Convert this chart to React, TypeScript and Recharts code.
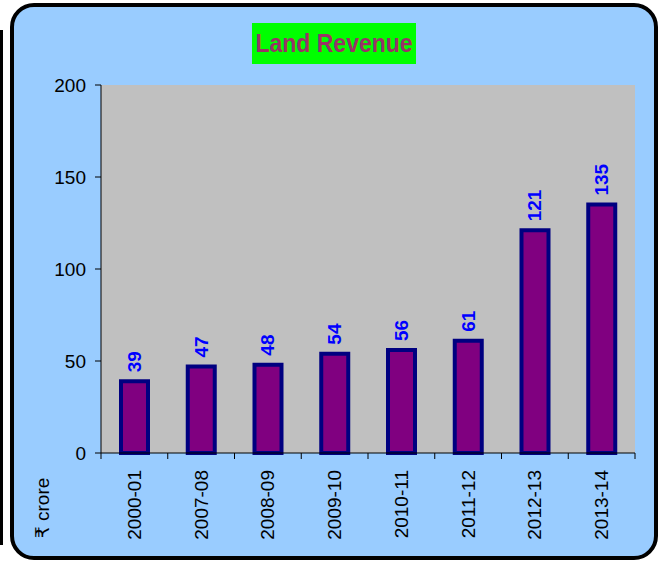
import { BarChart, Bar, XAxis, YAxis, CartesianGrid, LabelList } from "recharts";

const years = ["2000-01", "2007-08", "2008-09", "2009-10", "2010-11", "2011-12", "2012-13", "2013-14"];
const revenue = [39, 47, 48, 54, 56, 61, 121, 135];
const yTicks = [0, 50, 100, 150, 200];

const data = years.map((year, i) => ({ year, revenue: revenue[i] }));

const FONT = '"Liberation Sans", Arial, "DejaVu Sans", sans-serif';

function YearTick(props: any) {
  const { x, y, payload, index } = props;
  const half = payload?.offset || 534 / 8 / 2;
  return (
    <g>
      {index === 0 && <line x1={x - half} y1={y - 8} x2={x - half} y2={y - 2} stroke="#000" />}
      <line x1={x + half} y1={y - 8} x2={x + half} y2={y - 2} stroke="#000" />
      <text
        x={x}
        y={y + 9}
        transform={`rotate(-90, ${x}, ${y + 9})`}
        textAnchor="end"
        dominantBaseline="central"
        fontSize={19}
        fontFamily={FONT}
        fill="#000"
      >
        {payload.value}
      </text>
    </g>
  );
}

function ValueLabel(props: any) {
  const { x, y, width, value } = props;
  const cx = x + width / 2;
  const ty = y - 9;
  return (
    <text
      x={cx}
      y={ty}
      transform={`rotate(-90, ${cx}, ${ty})`}
      textAnchor="start"
      dominantBaseline="central"
      fontSize={19}
      fontWeight="bold"
      fontFamily={FONT}
      fill="#0000FF"
    >
      {value}
    </text>
  );
}

export default function App() {
  return (
    <div style={{ position: "absolute", left: 0, top: 0, width: 663, height: 563, background: "#fff", overflow: "hidden" }}>
      <div style={{ position: "absolute", left: 0, top: 30, width: 3, height: 515, background: "#000" }} />
      <div
        style={{
          position: "absolute",
          left: 10,
          top: 3,
          width: 648,
          height: 557,
          boxSizing: "border-box",
          border: "4px solid #000",
          borderRadius: 24,
          background: "#99CCFF",
        }}
      />
      <div
        style={{
          position: "absolute",
          left: 252,
          top: 23,
          width: 164,
          height: 41,
          background: "#00FF00",
        }}
      >
        <span
          style={{
            position: "absolute",
            left: "50%",
            top: 0,
            transform: "translateX(-50%) scaleX(0.92)",
            color: "#993366",
            fontFamily: FONT,
            fontWeight: "bold",
            fontSize: 25,
            lineHeight: "41px",
            whiteSpace: "nowrap",
          }}
        >
          Land Revenue
        </span>
      </div>
      <div style={{ position: "absolute", left: 0, top: 0 }}>
        <BarChart
          width={663}
          height={563}
          data={data}
          margin={{ top: 85, right: 28, bottom: 30, left: 0 }}
        >
          <CartesianGrid fill="#C0C0C0" horizontal={false} vertical={false} />
          <XAxis
            dataKey="year"
            height={80}
            axisLine={{ stroke: "#000" }}
            tickLine={false}
            tick={<YearTick />}
            interval={0}
          />
          <YAxis
            width={101}
            domain={[0, 200]}
            ticks={yTicks}
            axisLine={{ stroke: "#000" }}
            tickLine={{ stroke: "#000" }}
            tickSize={6}
            tickMargin={9}
            tick={{ fontSize: 19, fill: "#000", fontFamily: FONT }}
          />
          <Bar dataKey="revenue" barSize={27} fill="#800080" stroke="#000080" strokeWidth={4} isAnimationActive={false}>
            <LabelList dataKey="revenue" content={<ValueLabel />} />
          </Bar>
        </BarChart>
      </div>
      <div
        style={{
          position: "absolute",
          left: 42,
          top: 508,
          transform: "translate(-50%, -50%) rotate(-90deg)",
          fontFamily: FONT,
          fontSize: 19,
          whiteSpace: "nowrap",
          color: "#000",
        }}
      >
        ₹ crore
      </div>
    </div>
  );
}
